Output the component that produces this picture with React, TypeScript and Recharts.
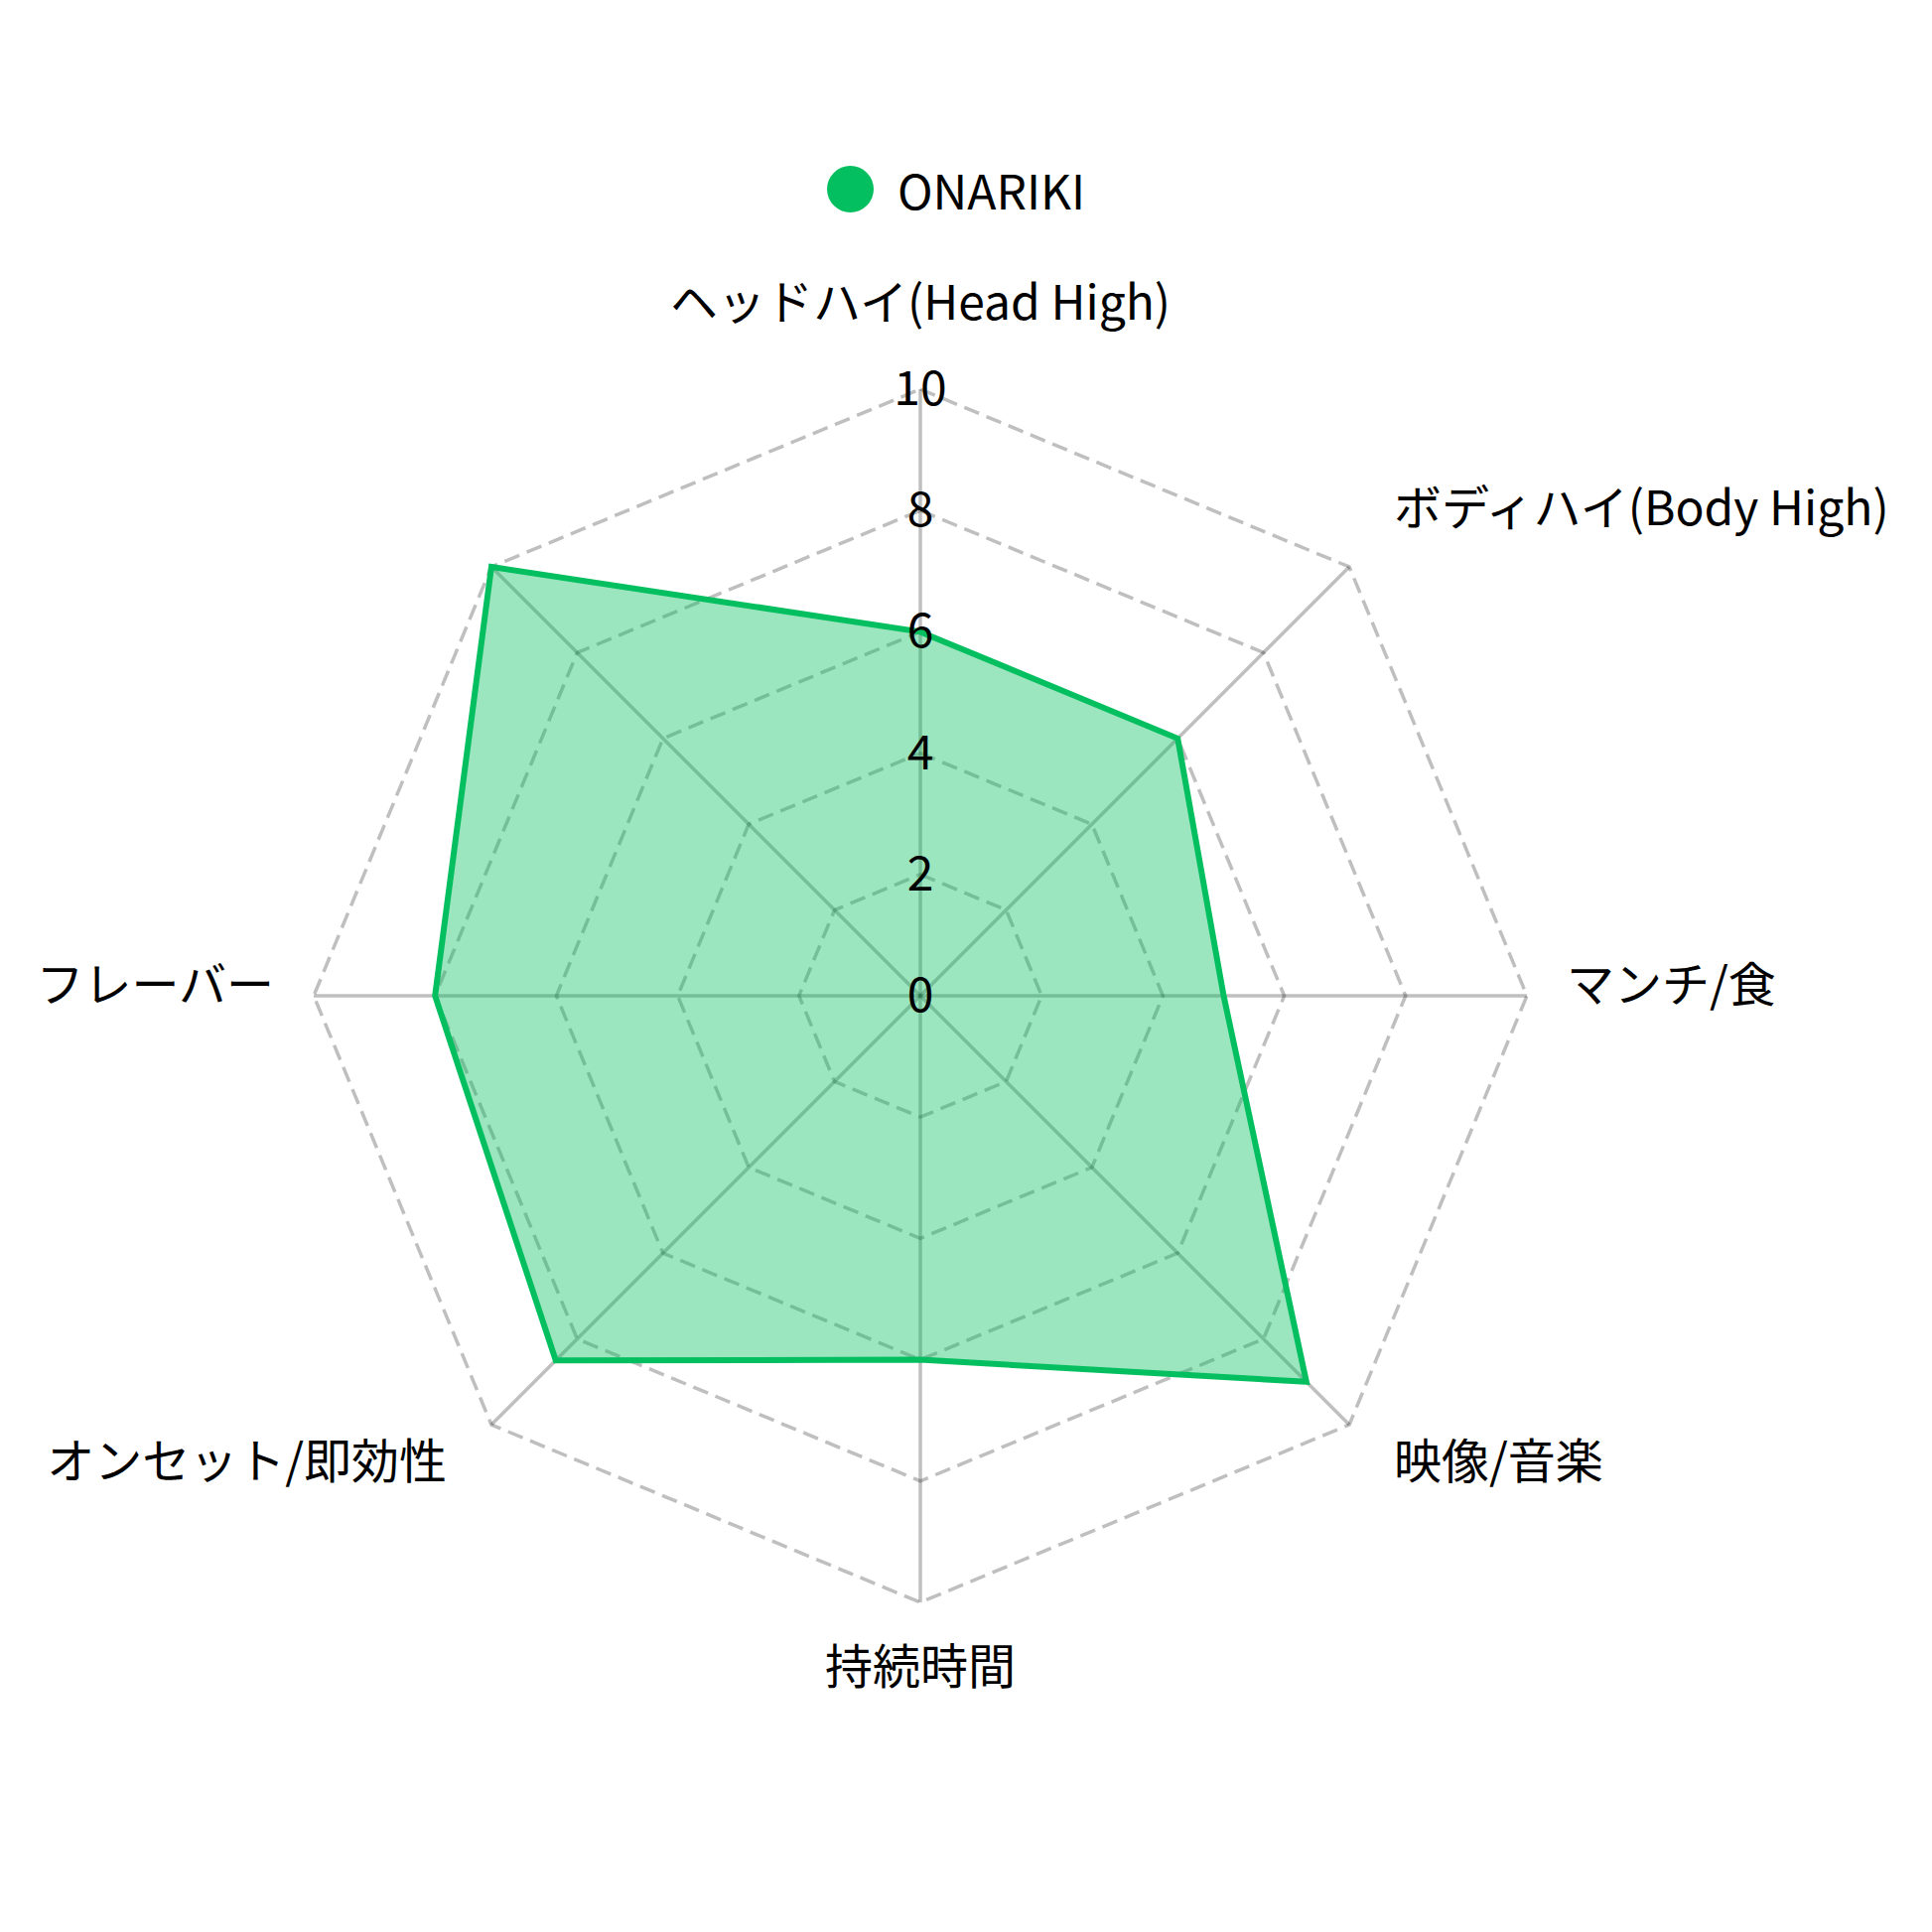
import { RadarChart, Radar, PolarGrid, PolarAngleAxis, PolarRadiusAxis, Legend } from 'recharts'

const subjects = [
  'ヘッドハイ(Head High)',
  'ボディハイ(Body High)',
  'マンチ/食',
  '映像/音楽',
  '持続時間',
  'オンセット/即効性',
  'フレーバー',
  '',
]
const onarikiValues = [6, 6, 5, 9, 6, 8.5, 8, 10]
const radiusTicks = [0, 2, 4, 6, 8, 10]
const seriesName = 'ONARIKI'

const data = subjects.map((s, i) => ({ subject: s, value: onarikiValues[i] }))

const W = 1946
const H = 1946
const CX = 927
const CY = 1003
const R = 611
const FONT = "'Noto Sans CJK JP', 'Noto Sans', sans-serif"
const GREEN = '#04bf5f'

// 軸ラベル: 頂点からの位置を角度で決める
function AngleTick(props: any) {
  const { payload } = props
  const label = payload?.value
  if (!label) return null
  const a = (payload.coordinate * Math.PI) / 180
  const cos = Math.cos(a)
  const sin = Math.sin(a)
  const vx = CX + R * cos
  const vy = CY - R * sin
  let anchor = 'middle'
  let dx = 0
  const side = 40 + 7 * Math.abs(sin)
  if (cos > 0.01) { anchor = 'start'; dx = side }
  if (cos < -0.01) { anchor = 'end'; dx = -side }
  const dy = -15 - Math.sign(sin) * 76 * Math.pow(Math.abs(sin), 1.3)
  return (
    <text
      x={vx + dx} y={vy + dy}
      textAnchor={anchor} dominantBaseline="central"
      fontFamily={FONT} fontSize={48} fill="#000"
    >
      {label}
    </text>
  )
}

function RadiusTick(props: any) {
  const { x, y, payload } = props
  return (
    <text
      x={x} y={y - 5}
      textAnchor="middle" dominantBaseline="central"
      fontFamily={FONT} fontSize={48} fill="#000"
    >
      {payload.value}
    </text>
  )
}

function LegendContent() {
  return (
    <div style={{ display: 'flex', alignItems: 'center', fontFamily: FONT, fontSize: 48, color: '#000' }}>
      <span style={{
        width: 47, height: 47, borderRadius: '50%',
        background: GREEN, display: 'inline-block', marginRight: 24,
      }} />
      <span>{seriesName}</span>
    </div>
  )
}

export default function App() {
  return (
    <div style={{ position: 'absolute', left: 0, top: 0, width: W, height: H, background: '#fff', fontFamily: FONT }}>
      <RadarChart width={W} height={H} data={data} cx={CX} cy={CY} outerRadius={R} startAngle={90} endAngle={-270}>
        {/* 同心ポリゴン(破線) */}
        <PolarGrid
          gridType="polygon" radialLines={false}
          stroke="#000" strokeOpacity={0.25} strokeWidth={3.5} strokeDasharray="16 8"
        />
        {/* 放射線(実線) */}
        <PolarGrid
          gridType="polygon" polarRadius={[]}
          stroke="#000" strokeOpacity={0.25} strokeWidth={3.5}
        />
        <PolarAngleAxis dataKey="subject" tick={<AngleTick />} tickLine={false} axisLine={false} />
        <PolarRadiusAxis
          angle={90} domain={[0, 10]} ticks={radiusTicks as any} tickCount={6}
          axisLine={false} tick={<RadiusTick />}
        />
        <Radar
          name={seriesName} dataKey="value"
          stroke={GREEN} strokeWidth={6} fill={GREEN} fillOpacity={0.4}
          dot={false} isAnimationActive={false}
        />
        <Legend
          content={<LegendContent />}
          wrapperStyle={{ position: 'absolute', top: 155, left: 833, width: 'auto' }}
        />
      </RadarChart>
    </div>
  )
}
